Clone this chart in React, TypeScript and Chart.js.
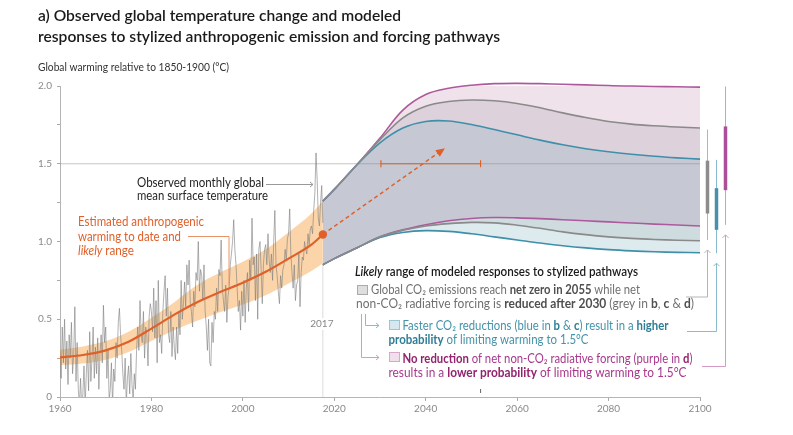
import React, { useEffect, useRef } from 'react';
import { Chart, registerables } from 'chart.js';

Chart.register(...registerables);

// ---------- DATA ----------
const xAxisMin = 1960;
const xAxisMax = 2100;
const xTickStep = 20;
const yAxisLabelValues = [0, 0.5, 1.0, 1.5, 2.0];
const yAxisLabels = ['0', '0.5', '1.0', '1.5', '2.0'];

// Observed monthly GMST, read at roughly quarterly resolution (°C)
const observedStartYear = 1960;
const observedPerYear = 4;
const observed = [
  0.30, 0.12, 0.45, 0.22, 0.50, 0.18, 0.36, 0.08, 0.40, 0.25, 0.48, 0.15,
  0.28, 0.58, 0.10, 0.35, 0.05, -0.05, 0.12, -0.08, 0.02, 0.20, -0.06, 0.15,
  0.30, 0.04, 0.42, 0.10, 0.25, 0.45, 0.12, 0.32, 0.15, 0.38, 0.05, 0.28,
  0.40, 0.22, 0.59, 0.35, 0.45, 0.12, 0.30, -0.02, 0.05, 0.22, -0.05, 0.18,
  0.10, 0.35, 0.25, 0.48, 0.57, 0.40, 0.30, 0.15, 0.05, 0.25, -0.04, 0.12,
  0.20, 0.02, 0.28, 0.08, -0.02, 0.15, 0.05, 0.30, 0.45, 0.30, 0.62, 0.40,
  0.35, 0.55, 0.25, 0.45, 0.40, 0.20, 0.52, 0.60, 0.55, 0.42, 0.70, 0.38,
  0.62, 0.22, 0.75, 0.35, 0.40, 0.28, 0.55, 0.68, 0.78, 0.52, 0.70, 0.40,
  0.35, 0.55, 0.26, 0.45, 0.32, 0.24, 0.45, 0.28, 0.55, 0.40, 0.75, 0.50,
  0.60, 0.74, 0.58, 0.85, 0.72, 0.88, 0.60, 0.55, 0.45, 0.68, 0.58, 0.80,
  0.75, 1.00, 0.68, 0.82, 0.78, 0.62, 0.85, 0.55, 0.45, 0.30, 0.50, 0.22,
  0.20, 0.48, 0.35, 0.55, 0.50, 0.70, 0.55, 0.82, 0.78, 1.01, 0.70, 0.62,
  0.55, 0.72, 0.48, 0.65, 0.70, 0.85, 0.92, 1.00, 1.14, 0.95, 0.85, 0.70,
  0.55, 0.62, 0.43, 0.68, 0.52, 0.75, 0.48, 0.70, 0.80, 0.55, 0.88, 0.75,
  1.15, 0.85, 0.90, 0.62, 0.92, 0.50, 0.95, 1.00, 0.82, 0.60, 0.85, 0.95,
  0.98, 0.85, 1.05, 0.88, 0.80, 0.92, 0.75, 1.00, 1.20, 0.85, 0.78, 0.68,
  0.60, 0.78, 0.70, 0.82, 0.85, 0.95, 0.88, 1.02, 1.05, 1.21, 0.92, 0.80,
  0.70, 0.85, 0.62, 0.72, 0.75, 0.92, 0.58, 0.80, 0.90, 0.88, 1.00, 0.95,
  0.92, 1.05, 0.98, 1.08, 1.10, 1.05, 1.20, 1.31, 1.57, 1.40, 1.15, 1.10,
  1.25, 1.36, 1.12,
];

// Estimated anthropogenic warming and likely range
const anthroYears = [1960, 1965, 1970, 1975, 1980, 1985, 1990, 1995, 2000, 2005, 2010, 2015, 2017.5];
const anthroCentral = [0.255, 0.27, 0.30, 0.355, 0.44, 0.53, 0.61, 0.675, 0.735, 0.805, 0.89, 0.98, 1.045];
const anthroLow = [0.205, 0.215, 0.24, 0.29, 0.36, 0.43, 0.49, 0.545, 0.595, 0.655, 0.73, 0.81, 0.86];
const anthroHigh = [0.305, 0.325, 0.36, 0.42, 0.51, 0.61, 0.72, 0.80, 0.87, 0.95, 1.06, 1.18, 1.26];

// Modeled responses to stylized pathways
const modelYears = [2017.5, 2020, 2025, 2030, 2035, 2040, 2045, 2050, 2055, 2060, 2065, 2070, 2075, 2080, 2085, 2090, 2095, 2100];
const purpleTop = [1.26, 1.335, 1.495, 1.665, 1.845, 1.945, 1.985, 2.005, 2.015, 2.017, 2.015, 2.011, 2.007, 2.003, 2.0, 1.997, 1.995, 1.993];
const greyTop = [1.26, 1.335, 1.495, 1.655, 1.795, 1.87, 1.90, 1.91, 1.905, 1.888, 1.86, 1.827, 1.797, 1.772, 1.755, 1.744, 1.736, 1.73];
const blueTop = [1.26, 1.335, 1.495, 1.635, 1.73, 1.772, 1.775, 1.752, 1.72, 1.686, 1.652, 1.622, 1.597, 1.577, 1.561, 1.548, 1.538, 1.53];
const purpleBottom = [0.85, 0.89, 0.96, 1.03, 1.075, 1.108, 1.133, 1.148, 1.154, 1.152, 1.147, 1.14, 1.133, 1.126, 1.119, 1.112, 1.106, 1.10];
const greyBottom = [0.85, 0.89, 0.96, 1.03, 1.072, 1.1, 1.115, 1.123, 1.12, 1.105, 1.085, 1.062, 1.044, 1.03, 1.02, 1.013, 1.008, 1.005];
const blueBottom = [0.85, 0.89, 0.96, 1.025, 1.058, 1.07, 1.065, 1.05, 1.03, 1.01, 0.99, 0.973, 0.959, 0.948, 0.94, 0.934, 0.93, 0.928];

// 2100 whiskers: grey, blue, purple
const whiskerThinLow = [1.01, 0.925, 1.107];
const whiskerThinHigh = [1.72, 1.525, 1.997];
const whiskerThickLow = [1.18, 1.075, 1.33];
const whiskerThickHigh = [1.52, 1.343, 1.74];

// Orange projection arrow and 1.5°C crossing range
const arrowStart = [2017.5, 1.045];
const arrowEnd = [2044.2, 1.6];
const crossingRange = [2030.2, 2052.0];
const crossingLevel = 1.5;
const markYear = 2017.5;

// ---------- STYLE ----------
const FONT = 'Lato, "Open Sans", "Noto Sans", sans-serif';
const ORANGE = '#e0602a';
const PURPLE = '#ad5a9d';
const GREY = '#8a8a8a';
const BLUE = '#3f8fab';

type Seg = { t: string; b?: boolean; i?: boolean; c?: string };

function drawRich(ctx: CanvasRenderingContext2D, x: number, y: number, segs: Seg[], size: number, color: string, width?: number, baseWeight = '400', boldWeight = '700') {
  const font = (s: Seg) => `${s.i ? 'italic ' : ''}${s.b ? boldWeight : baseWeight} ${size}px ${FONT}`;
  let total = 0;
  for (const s of segs) { ctx.font = font(s); total += ctx.measureText(s.t).width; }
  const sx = width ? width / total : 1;
  ctx.save();
  ctx.translate(x, y);
  ctx.scale(sx, 1);
  ctx.textBaseline = 'alphabetic';
  ctx.textAlign = 'left';
  let cx = 0;
  for (const s of segs) {
    ctx.font = font(s);
    ctx.fillStyle = s.c || color;
    ctx.fillText(s.t, cx, 0);
    cx += ctx.measureText(s.t).width;
  }
  ctx.restore();
}

function seg(ctx: CanvasRenderingContext2D, pts: number[][], color: string, w = 1) {
  ctx.save();
  ctx.strokeStyle = color; ctx.lineWidth = w;
  ctx.beginPath();
  ctx.moveTo(pts[0][0], pts[0][1]);
  for (let i = 1; i < pts.length; i++) ctx.lineTo(pts[i][0], pts[i][1]);
  ctx.stroke();
  ctx.restore();
}

function chevronUp(ctx: CanvasRenderingContext2D, x: number, y: number, color: string) {
  seg(ctx, [[x - 3, y + 3], [x, y], [x + 3, y + 3]], color, 1);
}
function chevronRight(ctx: CanvasRenderingContext2D, x: number, y: number, color: string) {
  seg(ctx, [[x - 3, y - 2.5], [x, y], [x - 3, y + 2.5]], color, 1);
}

const annotations = {
  id: 'annotations',
  beforeDatasetsDraw(chart: any) {
    const { ctx, scales: { x, y }, chartArea: a } = chart;
    const mx = x.getPixelForValue(markYear);
    seg(ctx, [[mx, y.getPixelForValue(anthroLow[anthroLow.length - 1])], [mx, a.bottom]], '#dcdcdc', 1);
  },
  afterDatasetsDraw(chart: any) {
    const { ctx, scales: { x, y }, chartArea: a } = chart;
    const X = (v: number) => x.getPixelForValue(v);
    const Y = (v: number) => y.getPixelForValue(v);

    // 1.5 °C reference line
    seg(ctx, [[a.left, Y(crossingLevel)], [a.right, Y(crossingLevel)]], 'rgba(130,130,130,0.45)', 1);

    // 2017 label
    const mx = X(markYear);
    ctx.save();
    ctx.font = `400 10px ${FONT}`;
    ctx.fillStyle = '#fff';
    ctx.fillRect(mx - 12, 318, 24, 12);
    ctx.fillStyle = '#888';
    ctx.textAlign = 'center';
    ctx.textBaseline = 'middle';
    ctx.fillText('2017', mx - 1, 324);
    ctx.restore();

    // orange crossing range at 1.5
    const cy = Y(crossingLevel);
    const c0 = X(crossingRange[0]), c1 = X(crossingRange[1]);
    seg(ctx, [[c0, cy], [c1, cy]], ORANGE, 1.2);
    seg(ctx, [[c0, cy - 3.5], [c0, cy + 3.5]], ORANGE, 1.2);
    seg(ctx, [[c1, cy - 3.5], [c1, cy + 3.5]], ORANGE, 1.2);
    seg(ctx, [[c1, a.bottom - 8], [c1, a.bottom - 4]], '#666', 1);

    // dashed arrow
    const ax0 = X(arrowStart[0]), ay0 = Y(arrowStart[1]);
    const ax1 = X(arrowEnd[0]), ay1 = Y(arrowEnd[1]);
    const ang = Math.atan2(ay1 - ay0, ax1 - ax0);
    ctx.save();
    ctx.strokeStyle = ORANGE; ctx.lineWidth = 1.5;
    ctx.setLineDash([4, 3]);
    ctx.beginPath();
    ctx.moveTo(ax0, ay0);
    ctx.lineTo(ax1 - 6 * Math.cos(ang), ay1 - 6 * Math.sin(ang));
    ctx.stroke();
    ctx.setLineDash([]);
    ctx.fillStyle = ORANGE;
    ctx.beginPath();
    ctx.moveTo(ax1, ay1);
    ctx.lineTo(ax1 - 9 * Math.cos(ang) + 4 * Math.sin(ang), ay1 - 9 * Math.sin(ang) - 4 * Math.cos(ang));
    ctx.lineTo(ax1 - 9 * Math.cos(ang) - 4 * Math.sin(ang), ay1 - 9 * Math.sin(ang) + 4 * Math.cos(ang));
    ctx.closePath();
    ctx.fill();
    ctx.restore();

    // whiskers at 2100
    const wx = [a.right + 7.5, a.right + 16.5, a.right + 25.5];
    const thinC = ['#b5b5b5', '#86bccd', '#d39ac6'];
    const thickC = ['#8c8c8c', '#4a90aa', '#ab4f98'];
    const connY = [297, 331.5, 366.5];
    const connX = [686, 687, 702];
    for (let i = 0; i < 3; i++) {
      seg(ctx, [[wx[i], Y(whiskerThinHigh[i])], [wx[i], Y(whiskerThinLow[i])]], thinC[i], 1);
      seg(ctx, [[wx[i], Y(whiskerThickHigh[i])], [wx[i], Y(whiskerThickLow[i])]], thickC[i], 3.5);
      const tip = Y(whiskerThinLow[i]) + 10;
      chevronUp(ctx, wx[i], tip, thinC[i]);
      seg(ctx, [[wx[i], tip], [wx[i], connY[i]], [connX[i], connY[i]]], thinC[i], 1);
    }

    // ---- text ----
    drawRich(ctx, 38, 21, [{ t: 'a) Observed global temperature change and modeled' }], 15.5, '#1a1a1a', 363, '600');
    drawRich(ctx, 38, 41.5, [{ t: 'responses to stylized anthropogenic emission and forcing pathways' }], 15.5, '#1a1a1a', 462, '600');
    drawRich(ctx, 38, 71, [{ t: 'Global warming relative to 1850-1900 (°C)' }], 12, '#333', 191);

    // observed label
    drawRich(ctx, 137, 186.5, [{ t: 'Observed monthly global' }], 13, '#1f1f1f', 127);
    drawRich(ctx, 137, 200, [{ t: 'mean surface temperature' }], 13, '#1f1f1f', 131);
    seg(ctx, [[266, 184.5], [313, 184.5]], '#999', 1);
    chevronRight(ctx, 313, 184.5, '#999');

    // estimated label
    drawRich(ctx, 78, 226, [{ t: 'Estimated anthropogenic' }], 14, ORANGE, 126);
    drawRich(ctx, 78, 240.5, [{ t: 'warming to date and' }], 14, ORANGE, 103);
    drawRich(ctx, 78, 254.5, [{ t: 'likely', i: true }, { t: ' range' }], 14, ORANGE, 56);
    seg(ctx, [[188, 236.5], [229, 236.5], [229, 285.5]], '#e8946a', 1);

    // legend
    drawRich(ctx, 355, 275.5, [{ t: 'Likely', i: true }, { t: ' range of modeled responses to stylized pathways' }], 13.5, '#1a1a1a', 283, '600', '600');
    const GT = '#707070', GB = '#4f4f4f';
    ctx.save();
    ctx.fillStyle = '#dedede'; ctx.strokeStyle = '#aaa'; ctx.lineWidth = 1;
    ctx.fillRect(357.5, 285.5, 10, 9); ctx.strokeRect(357.5, 285.5, 10, 9);
    ctx.restore();
    drawRich(ctx, 371, 294, [{ t: 'Global CO₂ emissions reach ' }, { t: 'net zero in 2055', b: true, c: GB }, { t: ' while net' }], 13, GT, 269);
    drawRich(ctx, 356, 307.5, [{ t: 'non-CO₂ radiative forcing is ' }, { t: 'reduced after 2030', b: true, c: GB }, { t: ' (grey in ' }, { t: 'b', b: true, c: GB }, { t: ', ' }, { t: 'c', b: true, c: GB }, { t: ' & ' }, { t: 'd', b: true, c: GB }, { t: ')' }], 13, GT, 338);

    const BT = '#4593aa', BB = '#2f7d96';
    seg(ctx, [[365.5, 314], [365.5, 325.5], [379, 325.5]], '#86bccd', 1);
    chevronRight(ctx, 379, 325.5, '#86bccd');
    ctx.save();
    ctx.fillStyle = '#d6e8ee'; ctx.strokeStyle = '#9cc5d3'; ctx.lineWidth = 1;
    ctx.fillRect(389.5, 320.5, 10, 9); ctx.strokeRect(389.5, 320.5, 10, 9);
    ctx.restore();
    drawRich(ctx, 402.5, 329.5, [{ t: 'Faster CO₂ reductions (blue in ' }, { t: 'b', b: true, c: BB }, { t: ' & ' }, { t: 'c', b: true, c: BB }, { t: ') result in a ' }, { t: 'higher', b: true, c: BB }], 13, BT, 266);
    drawRich(ctx, 388.5, 344, [{ t: 'probability', b: true, c: BB }, { t: ' of limiting warming to 1.5°C' }], 13, BT, 200);

    const PT = '#a8378c', PB = '#93236f';
    seg(ctx, [[361.5, 314], [361.5, 357.5], [379, 357.5]], '#d39ac6', 1);
    chevronRight(ctx, 379, 357.5, '#d39ac6');
    ctx.save();
    ctx.fillStyle = '#f1dfeb'; ctx.strokeStyle = '#d5a9c9'; ctx.lineWidth = 1;
    ctx.fillRect(389.5, 352.5, 10, 9); ctx.strokeRect(389.5, 352.5, 10, 9);
    ctx.restore();
    drawRich(ctx, 402.5, 362.5, [{ t: 'No reduction', b: true, c: PB }, { t: ' of net non-CO₂ radiative forcing (purple in ' }, { t: 'd', b: true, c: PB }, { t: ')' }], 13, PT, 290);
    drawRich(ctx, 388.5, 376.5, [{ t: 'results in a ' }, { t: 'lower probability', b: true, c: PB }, { t: ' of limiting warming to 1.5°C' }], 13, PT, 298);
  },
};

function pts(xs: number[], ys: number[]) {
  return xs.map((v, i) => ({ x: v, y: ys[i] }));
}

export default function App() {
  const ref = useRef<HTMLCanvasElement>(null);
  useEffect(() => {
    if (!ref.current) return;
    const obsPts = observed.map((v, i) => ({ x: observedStartYear + i / observedPerYear, y: v }));
    const lastIdx = anthroYears.length - 1;
    const model = (data: number[], color: string, order: number, fill: any, bg: string) => ({
      data: pts(modelYears, data),
      borderColor: color,
      borderWidth: 1.6,
      pointRadius: 0,
      tension: 0.35,
      fill,
      backgroundColor: bg,
      clip: 4,
      order,
    });
    const chart = new Chart(ref.current, {
      type: 'line',
      data: {
        datasets: [
          {
            data: pts(anthroYears, anthroCentral),
            borderColor: ORANGE, borderWidth: 2.2,
            pointRadius: (c: any) => (c.dataIndex === lastIdx ? 4.2 : 0),
            pointBackgroundColor: ORANGE, pointBorderWidth: 0,
            cubicInterpolationMode: 'monotone', fill: false, order: 0,
          },
          { data: pts(anthroYears, anthroLow), borderWidth: 0, pointRadius: 0, cubicInterpolationMode: 'monotone', fill: false, order: 1 },
          { data: pts(anthroYears, anthroHigh), borderWidth: 0, pointRadius: 0, cubicInterpolationMode: 'monotone', fill: 1, backgroundColor: 'rgba(248,178,98,0.55)', order: 1 },
          { data: obsPts, borderColor: 'rgba(125,125,125,0.6)', borderWidth: 1, pointRadius: 0, tension: 0, fill: false, order: 2 },
          model(purpleTop, PURPLE, 6, false, 'transparent'),
          model(greyTop, GREY, 4, 4, '#f0e2eb'),
          model(blueTop, BLUE, 5, 5, '#ddd1db'),
          model(purpleBottom, PURPLE, 6, 6, '#c6c9d4'),
          model(greyBottom, GREY, 4, 7, '#cfdcdf'),
          model(blueBottom, BLUE, 5, 8, '#ddeaee'),
        ] as any,
      },
      options: {
        animation: false,
        responsive: true,
        maintainAspectRatio: false,
        layout: { padding: { left: 8, right: 93, top: 86, bottom: 0 } },
        plugins: {
          legend: { display: false },
          tooltip: { enabled: false },
          title: { display: false },
          filler: { drawTime: 'beforeDatasetsDraw' },
        },
        scales: {
          x: {
            type: 'linear', min: xAxisMin, max: xAxisMax,
            afterFit: (s: any) => { s.height = 38; },
            ticks: { stepSize: xTickStep, color: '#8a8a8a', font: { family: FONT, size: 10 }, padding: 2, callback: (v: any) => String(v), maxRotation: 0 },
            grid: { drawOnChartArea: false, drawTicks: true, tickLength: 4, tickColor: '#aaa' },
            border: { color: '#b5b5b5', width: 1 },
          },
          y: {
            type: 'linear', min: 0, max: 2,
            afterFit: (s: any) => { s.width = 52; },
            ticks: {
              stepSize: 0.25, color: '#8a8a8a', font: { family: FONT, size: 10 }, padding: 5,
              callback: (v: any) => {
                const k = yAxisLabelValues.findIndex((t) => Math.abs(t - v) < 1e-9);
                return k >= 0 ? yAxisLabels[k] : '';
              },
            },
            grid: { drawOnChartArea: false, drawTicks: true, tickLength: 3, tickColor: '#aaa' },
            border: { color: '#b5b5b5', width: 1 },
          },
        },
      } as any,
      plugins: [annotations],
    });
    return () => chart.destroy();
  }, []);
  return (
    <div style={{ position: 'absolute', left: 0, top: 0, width: 793, height: 435, background: '#fff' }}>
      <canvas ref={ref} />
    </div>
  );
}
